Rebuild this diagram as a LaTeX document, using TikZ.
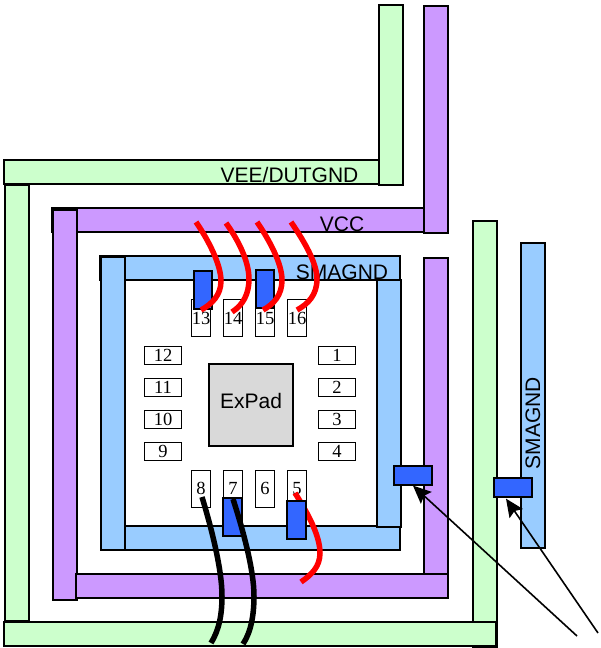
\documentclass[tikz,border=0pt]{standalone}
\usepackage{fontspec}
\setmainfont{Liberation Sans}
\newfontfamily\pinfont{Liberation Serif}
\definecolor{veegreen}{HTML}{CCFFCC}
\definecolor{vccpurple}{HTML}{CC99FF}
\definecolor{smablue}{HTML}{99CCFF}
\definecolor{padblue}{HTML}{3366FF}
\definecolor{expadgray}{HTML}{D9D9D9}
\tikzset{
    veebar/.style={draw=black,fill=veegreen,line width=1.8pt},
    vccbar/.style={draw=black,fill=vccpurple,line width=1.8pt},
    smabar/.style={draw=black,fill=smablue,line width=1.8pt},
    barlabel/.style={inner sep=0pt,font=\fontsize{21}{24}\selectfont},
    pinv/.style={draw=black,fill=white,line width=1.4pt,inner sep=0pt,minimum width=19.5pt,minimum height=37.5pt,font=\pinfont\fontsize{18.5}{20}\selectfont},
    pinh/.style={draw=black,fill=white,line width=1.4pt,inner sep=0pt,minimum width=37.5pt,minimum height=18.5pt,font=\pinfont\fontsize{18.5}{20}\selectfont},
    padv/.style={draw=black,fill=padblue,line width=1.8pt,inner sep=0pt,minimum width=18.5pt,minimum height=37.5pt},
    padh/.style={draw=black,fill=padblue,line width=1.8pt,inner sep=0pt,minimum width=37.5pt,minimum height=18.5pt},
    redwire/.style={red,line width=5.5pt},
    blackwire/.style={black,line width=5.5pt},
    callout/.style={-{Stealth[length=18pt,width=16pt,inset=3pt]},black,line width=1.6pt}
}
\usetikzlibrary{arrows.meta}
\begin{document}
\begin{tikzpicture}[x=1pt,y=-1pt]
    \useasboundingbox (0,0) rectangle (600,648);
    % VEE/DUTGND
    \filldraw [veebar] (4,160) rectangle (379,184);
    \filldraw [veebar] (379,5) rectangle (403,185);
    \filldraw [veebar] (5,185) rectangle (29,621);
    \filldraw [veebar] (473,221) rectangle (497,647);
    \filldraw [veebar] (4,622) rectangle (496,646);
    % VCC
    \filldraw [vccbar] (424,6) rectangle (448,233);
    \filldraw [vccbar] (52,208) rectangle (424,232);
    \filldraw [vccbar] (53,210) rectangle (77,600);
    \filldraw [vccbar] (424,258) rectangle (448,574);
    \filldraw [vccbar] (76,574) rectangle (448,598);
    % SMAGND
    \filldraw [smabar] (100,256) rectangle (400,280);
    \filldraw [smabar] (125,526) rectangle (400,550);
    \filldraw [smabar] (101,257) rectangle (125,550);
    \filldraw [smabar] (377,280) rectangle (401,527);
    \filldraw [smabar] (521,243) rectangle (545,548);
    \node [barlabel] (veelabel) at (289.5,175) {VEE/DUTGND};
    \node [barlabel] (vcclabel) at (342,224) {VCC};
    \node [barlabel] (smatop) at (342,272) {SMAGND};
    \node [barlabel,rotate=90] (smaside) at (533,423) {SMAGND};
    % ExPad
    \node [draw=black,fill=expadgray,line width=1.4pt,minimum width=84pt,minimum height=82pt,inner sep=0pt,font=\fontsize{21}{24}\selectfont] (expad) at (251,405) {\raisebox{9pt}{ExPad}};
    % pins
    \node [pinh] (pin1) at (337,355.5) {1};
    \node [pinh] (pin2) at (337,387.5) {2};
    \node [pinh] (pin3) at (337,419.5) {3};
    \node [pinh] (pin4) at (337,451.5) {4};
    \node [pinv] (pin5) at (297,489) {\raisebox{2pt}{5}};
    \node [pinv] (pin6) at (265,489) {\raisebox{2pt}{6}};
    \node [pinv] (pin7) at (233,489) {\raisebox{2pt}{7}};
    \node [pinv] (pin8) at (201,489) {\raisebox{2pt}{8}};
    \node [pinh] (pin9) at (163,451.5) {9};
    \node [pinh] (pin10) at (163,419.5) {10};
    \node [pinh] (pin11) at (163,387.5) {11};
    \node [pinh] (pin12) at (163,355.5) {12};
    \node [pinv] (pin13) at (201,318) {\raisebox{-4pt}{13}};
    \node [pinv] (pin14) at (233,318) {\raisebox{-4pt}{14}};
    \node [pinv] (pin15) at (265,318) {\raisebox{-4pt}{15}};
    \node [pinv] (pin16) at (297,318) {\raisebox{-4pt}{16}};
    % down bonds
    \node [padv] (pad13) at (203,290) {};
    \node [padv] (pad15) at (265,289) {};
    \node [padv] (pad7) at (232.5,517) {};
    \draw [redwire] (295,493) .. controls (307,512) and (320,535) .. (320,553) .. controls (320,567) and (311,575) .. (301,582);
    \node [padv] (pad5) at (296.5,520) {};
    \node [padh] (padright) at (413,475.5) {};
    \node [padh] (padside) at (513,487.5) {};
    % red bonds
    \draw [redwire] (196,222) .. controls (209,241) and (221,265) .. (221,281) .. controls (221,295) and (212,304) .. (201,310);
    \draw [redwire] (226,223) .. controls (239,241) and (249,262) .. (249,279) .. controls (249,294) and (243,305) .. (232,312);
    \draw [redwire] (257,222) .. controls (270,241) and (282,264) .. (282,280) .. controls (282,295) and (274,304) .. (263,310);
    \draw [redwire] (291,222) .. controls (304,241) and (317,263) .. (317,279) .. controls (317,295) and (308,304) .. (297,310);
    % black bonds
    \draw [blackwire] (202,497) .. controls (212,530) and (222,570) .. (222,596) .. controls (222,615) and (219,630) .. (211,643);
    \draw [blackwire] (233,499) .. controls (243,530) and (254,570) .. (254,596) .. controls (254,615) and (251,632) .. (243,644);
    % callouts
    \coordinate (tailright) at (577,636);
    \coordinate (tailside) at (598,633);
    \draw [callout] (tailright) -- (padright.south);
    \draw [callout] (tailside) -- ([xshift=-7pt,yshift=-1pt]padside.south);
\end{tikzpicture}
\end{document}
